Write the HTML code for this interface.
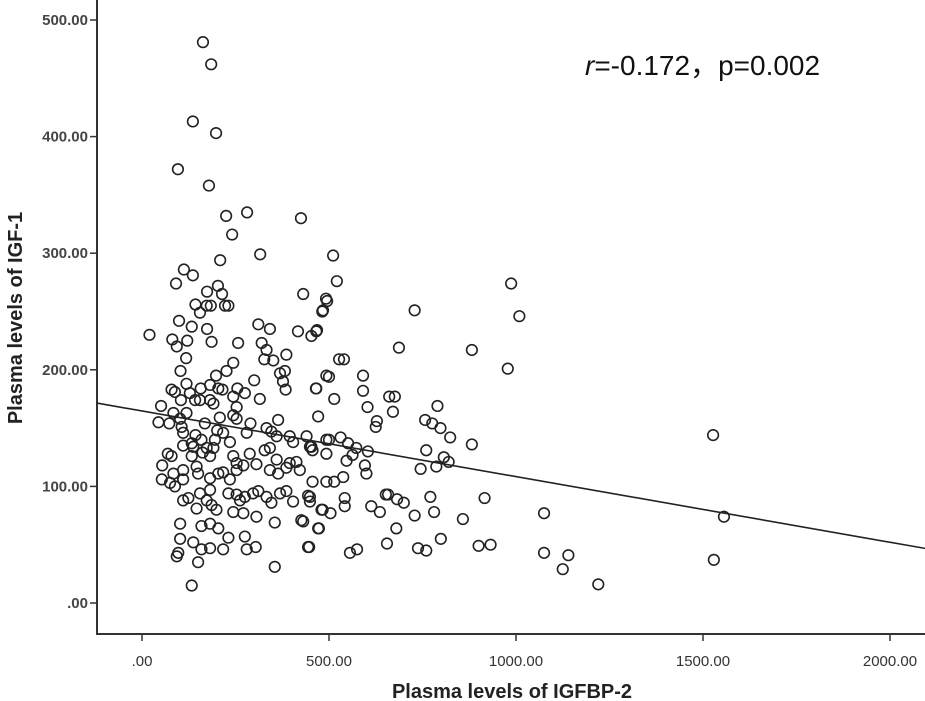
<!DOCTYPE html>
<html><head><meta charset="utf-8"><style>
html,body{margin:0;padding:0;background:#fff;}
svg{display:block;font-family:"Liberation Sans",Arial,sans-serif;}
</style></head><body>
<svg id="chart" width="925" height="701" viewBox="0 0 925 701">
<g id="axes"></g>
<g id="pts"></g>
<g id="fit"></g>
<text x="585" y="75" font-size="28" fill="#111"><tspan font-style="italic">r</tspan>=-0.172，p=0.002</text>
<text x="512" y="698" font-size="20" font-weight="bold" fill="#222" text-anchor="middle">Plasma levels of IGFBP-2</text>
<text transform="translate(22,318) rotate(-90)" font-size="20" font-weight="bold" fill="#222" text-anchor="middle">Plasma levels of IGF-1</text>
</svg>
<script>
const xTicks=[0,500,1000,1500,2000];
const xTickLabels=[".00","500.00","1000.00","1500.00","2000.00"];
const yTicks=[0,100,200,300,400,500];
const yTickLabels=[".00","100.00","200.00","300.00","400.00","500.00"];
const fitIntercept=164.7;
const fitSlope=-0.0563;
const igfbp2=[143,155,173,184,222,231,482,99,133,174,311,342,417,453,468,20,81,93,121,186,257,320,333,386,327,351,118,244,103,226,198,300,369,382,377,384,465,493,79,88,119,157,182,204,215,128,104,142,155,182,191,255,275,244,253,244,315,51,84,102,119,44,73,106,110,168,208,253,290,364,471,333,346,143,133,137,110,159,201,195,217,235,280,360,395,404,440,449,493,493,69,79,133,173,182,191,162,244,253,288,328,342,360,395,413,456,54,84,110,146,53,75,88,110,150,182,204,217,235,253,271,306,342,364,386,422,456,493,110,124,155,182,173,146,186,199,231,253,262,275,297,311,333,346,369,386,404,449,480,449,102,159,182,204,137,159,231,275,280,304,244,271,306,355,426,471,444,102,97,93,150,217,182,355,133,
484,729,1009,466,687,882,978,527,540,500,591,466,591,514,661,676,603,671,790,628,625,757,776,798,824,882,453,500,531,551,573,604,547,563,596,600,760,807,820,787,745,514,538,444,542,542,483,504,613,636,652,658,682,700,729,680,771,781,858,916,431,473,447,556,575,655,738,760,799,900,932,1075,1075,
1527,1556,1529,1140,1125,1220,
163,185,136,198,96,179,225,281,425,241,316,511,209,112,136,521,91,203,987,174,214,431,492,495];
const igf1=[256,249,255,255,255,255,250,242,237,235,239,235,233,229,234,230,226,220,225,224,223,223,217,213,209,208,210,206,199,199,195,191,197,199,190,183,184,195,183,181,188,184,187,184,183,180,174,174,174,174,171,184,180,177,168,161,175,169,163,158,163,155,154,151,146,154,159,158,154,157,160,150,147,144,137,134,135,140,148,140,146,138,146,143,143,138,143,134,140,128,128,126,126,133,126,133,129,126,120,128,131,133,123,120,121,131,118,111,114,117,106,103,100,106,111,107,111,112,106,114,118,119,114,111,116,114,104,104,88,90,94,97,88,81,84,80,94,93,88,91,94,96,91,86,94,96,87,91,80,87,68,66,68,64,52,46,56,57,46,48,78,77,74,69,71,64,48,55,43,40,35,46,47,31,15,
251,251,246,233,219,217,201,209,209,194,195,184,182,175,177,177,168,164,169,156,151,157,154,150,142,136,134,140,142,137,133,130,122,127,118,111,131,125,121,117,115,104,108,92,90,83,80,77,83,78,93,93,89,86,75,64,91,78,72,90,70,64,48,43,46,51,47,45,55,49,50,77,43,
144,74,37,41,29,16,
481,462,413,403,372,358,332,335,330,316,299,298,294,286,281,276,274,272,274,267,265,265,261,259];

const X0=142, XPX=374/1000, Y0=603, YPX=1166/1000;
function xs(v){return X0+v*XPX;}
function ys(v){return Y0-v*YPX;}
const NS="http://www.w3.org/2000/svg";
function mk(tag,attrs,parent){const e=document.createElementNS(NS,tag);for(const k in attrs)e.setAttribute(k,attrs[k]);parent.appendChild(e);return e;}
const ax=document.getElementById('axes');
let l=mk('line',{x1:97,y1:0,x2:97,y2:635,stroke:'#333','stroke-width':2},ax);


l=mk('line',{x1:96,y1:634,x2:925,y2:634,stroke:'#333','stroke-width':2},ax);


xTicks.forEach((v,i)=>{
  const t=mk('line',{x1:xs(v),y1:634,x2:xs(v),y2:641,stroke:'#333','stroke-width':1.5},ax);
  
  
  const tx=mk('text',{x:xs(v),y:666,'font-size':15,fill:'#333','text-anchor':'middle'},ax);
  tx.textContent=xTickLabels[i];
  
  
});
yTicks.forEach((v,i)=>{
  const t=mk('line',{x1:90,y1:ys(v),x2:97,y2:ys(v),stroke:'#333','stroke-width':1.5},ax);
  
  
  const tx=mk('text',{x:88,y:ys(v)+5,'font-size':15,'font-weight':'bold',fill:'#444','text-anchor':'end'},ax);
  tx.textContent=yTickLabels[i];
  
  
});
const pg=document.getElementById('pts');
for(let i=0;i<Math.min(igfbp2.length,igf1.length);i++){
  const c=mk('circle',{cx:xs(igfbp2[i]),cy:ys(igf1[i]),r:5.3,fill:'none',stroke:'#222','stroke-width':1.6},pg);
  
  
}
const xa=(97-X0)/XPX, xb=(925-X0)/XPX;
const fl=mk('line',{x1:97,y1:ys(fitIntercept+fitSlope*xa),x2:925,y2:ys(fitIntercept+fitSlope*xb),stroke:'#222','stroke-width':1.6},document.getElementById('fit'));


</script>
</body></html>
